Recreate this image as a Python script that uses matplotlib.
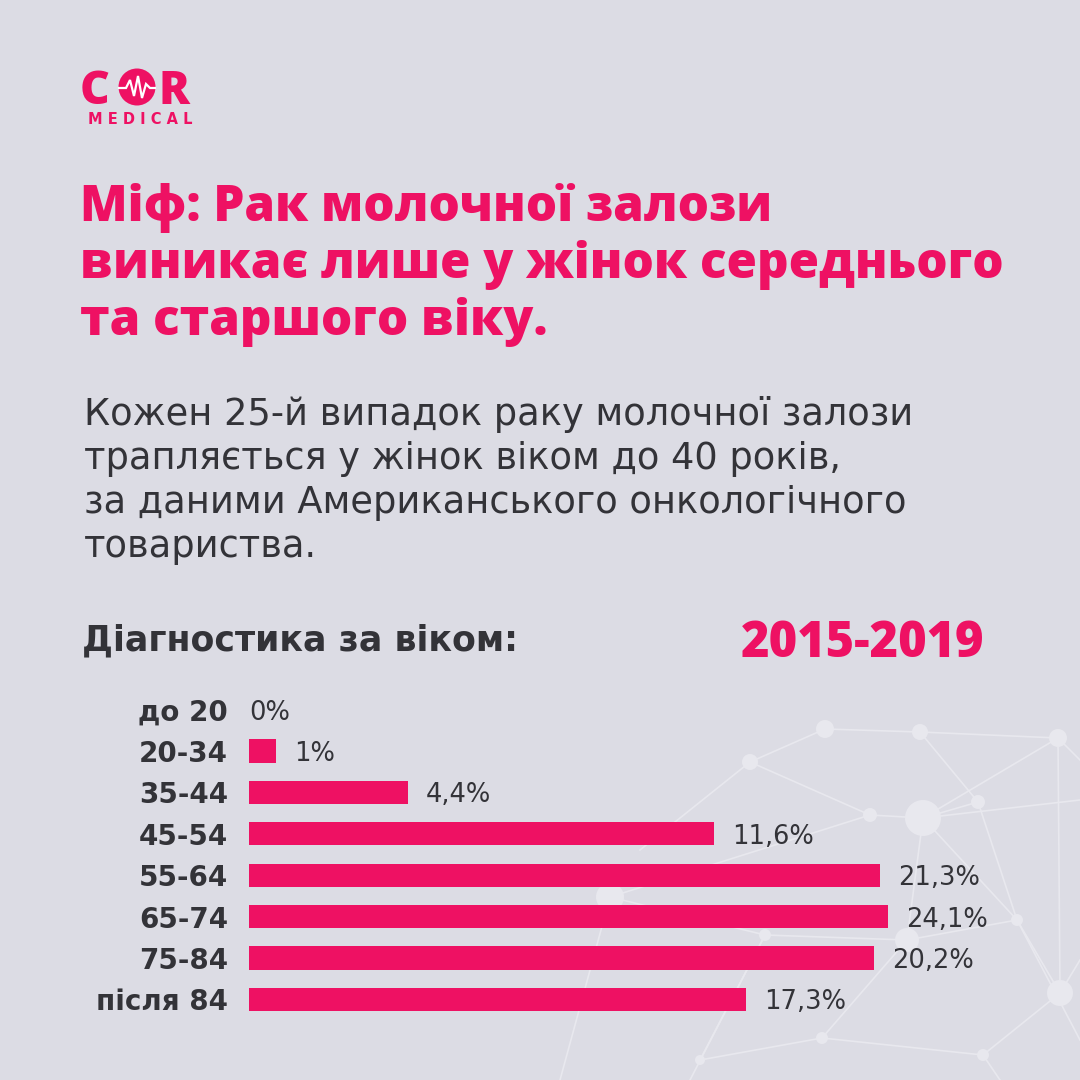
import matplotlib
matplotlib.use("Agg")
import matplotlib.pyplot as plt
from matplotlib.patches import Circle
from matplotlib import font_manager as fm
from matplotlib.font_manager import FontProperties
from matplotlib.textpath import TextPath

# ---------------- data ----------------
age_groups = ["до 20", "20-34", "35-44", "45-54", "55-64", "65-74", "75-84", "після 84"]
percent_values = [0.0, 1.0, 4.4, 11.6, 21.3, 24.1, 20.2, 17.3]
value_labels = ["0%", "1%", "4,4%", "11,6%", "21,3%", "24,1%", "20,2%", "17,3%"]
# bar lengths as drawn in the reference (designer scale, not proportional)
bar_lengths = [0, 27, 159, 465, 631, 639, 625, 497]

title_lines = ["Міф: Рак молочної залози",
               "виникає лише у жінок середнього",
               "та старшого віку."]
subtitle_lines = ["Кожен 25-й випадок раку молочної залози",
                  "трапляється у жінок віком до 40 років,",
                  "за даними Американського онкологічного",
                  "товариства."]
section_label = "Діагностика за віком:"
period_label = "2015-2019"

# ---------------- style ----------------
BG = "#dcdce4"
PINK = "#ee1163"
DARK = "#333338"
NET = "#e8e8ee"
WIDE = ["DejaVu Sans"]
plt.rcParams["font.family"] = ["DejaVu Sans"]


def _w(f):
    try:
        return int(f.weight)
    except (TypeError, ValueError):
        return {"bold": 700, "extra bold": 800, "heavy": 800, "black": 900,
                "semibold": 600, "demibold": 600}.get(str(f.weight).lower(), 400)


def pick_heavy(family):
    best, best_w = None, -1
    for f in fm.fontManager.ttflist:
        if f.name != family or f.style != "normal" or _w(f) < 700:
            continue
        if "italic" in f.fname.lower():
            continue
        fp = FontProperties(fname=f.fname, size=10)
        try:
            width = TextPath((0, 0), "Міф середнього 2015", prop=fp).get_extents().width
        except Exception:
            continue
        if width > best_w:
            best, best_w = fp, width
    if best is None:
        best = FontProperties(family=["DejaVu Sans"], weight="bold")
    return best


HEAVY_FP = pick_heavy("Open Sans")


def heavy(size):
    fp = HEAVY_FP.copy()
    fp.set_size(size)
    return fp


W = H = 1080
fig = plt.figure(figsize=(10.8, 10.8), dpi=100, facecolor=BG)

bg = fig.add_axes([0, 0, 1, 1], zorder=0)
bg.set_xlim(0, W)
bg.set_ylim(H, 0)
bg.axis("off")
bg.set_facecolor(BG)

# decorative network
nodes = [(825, 729, 9), (920, 732, 8), (1058, 738, 9), (750, 762, 8),
         (978, 802, 7), (870, 815, 7), (923, 818, 18), (610, 897, 14),
         (765, 935, 6), (907, 940, 12), (1017, 920, 6), (1060, 993, 13),
         (822, 1038, 6), (983, 1055, 6), (700, 1060, 5)]
edges = [(0, 1), (1, 2), (3, 0), (1, 4), (4, 6), (5, 6), (6, 2), (3, 5),
         (6, 10), (10, 11), (6, 9), (9, 8), (8, 7), (9, 12), (12, 13),
         (13, 11), (11, 2), (4, 10), (7, 5), (9, 10), (12, 14), (8, 14)]
for a, b in edges:
    bg.plot([nodes[a][0], nodes[b][0]], [nodes[a][1], nodes[b][1]],
            color=NET, lw=1.2, zorder=0.5)
for x, y, r in nodes:
    bg.add_patch(Circle((x, y), r, color=NET, zorder=0.6, lw=0))
for (x0, y0, x1, y1) in [(1058, 738, 1080, 760), (923, 818, 1080, 800),
                         (1060, 993, 1080, 960), (610, 897, 560, 1080),
                         (765, 935, 690, 1080), (983, 1055, 1000, 1080),
                         (750, 762, 640, 850), (1017, 920, 1080, 1040)]:
    bg.plot([x0, x1], [y0, y1], color=NET, lw=1.2, zorder=0.5)

# logo
bg.text(80, 104, "C", color=PINK, fontproperties=heavy(33),
        ha="left", va="baseline")
bg.add_patch(Circle((137, 87), 18.5, color=PINK, lw=0, zorder=2))
hb_x = [119, 126, 130, 134, 138, 142, 146, 150, 155]
hb_y = [88, 88, 80, 96, 76, 98, 84, 88, 88]
bg.plot(hb_x, hb_y, color="white", lw=1.6, zorder=3, solid_joinstyle="miter")
bg.text(158, 104, "R", color=PINK, fontproperties=heavy(33),
        ha="left", va="baseline")
bg.text(140, 124, "M E D I C A L", color=PINK, fontsize=10.5, fontweight="bold",
        family=WIDE, ha="center", va="baseline")

# title
for i, line in enumerate(title_lines):
    bg.text(80, 221 + i * 57, line, color=PINK, fontproperties=heavy(35.5),
            ha="left", va="baseline")

# subtitle
for i, line in enumerate(subtitle_lines):
    bg.text(84, 425 + i * 44, line, color=DARK, fontsize=26.5, fontweight="normal",
            family=WIDE, ha="left", va="baseline")

bg.text(82, 650, section_label, color=DARK, fontsize=25, fontweight="bold",
        family=WIDE, ha="left", va="baseline")
bg.text(984, 657, period_label, color=PINK, fontproperties=heavy(35),
        ha="right", va="baseline")

# bar chart axes
ax_left, ax_right = 249, 1080
ax_top, ax_bottom = 689, 1020
ax = fig.add_axes([ax_left / W, 1 - ax_bottom / H,
                   (ax_right - ax_left) / W, (ax_bottom - ax_top) / H], zorder=1)
ax.patch.set_alpha(0)
ax.set_xlim(0, ax_right - ax_left)
ax.set_ylim(len(age_groups) - 0.5, -0.5)
for s in ax.spines.values():
    s.set_visible(False)
ax.set_xticks([])
ax.set_yticks(range(len(age_groups)))
ax.set_yticklabels(age_groups, fontsize=20, fontweight="bold", color=DARK,
                   family=WIDE)
ax.tick_params(axis="y", length=0, pad=15)

y = list(range(len(age_groups)))
ax.barh(y, bar_lengths, height=0.56, color=PINK, zorder=2)
for yi, L, lab in zip(y, bar_lengths, value_labels):
    off = 18 if L > 0 else 0
    ax.text(L + off, yi, lab, color=DARK, fontsize=18.5, fontweight="normal",
            family=WIDE, ha="left", va="center_baseline")

fig.savefig("out.png", dpi=100, facecolor=BG)
